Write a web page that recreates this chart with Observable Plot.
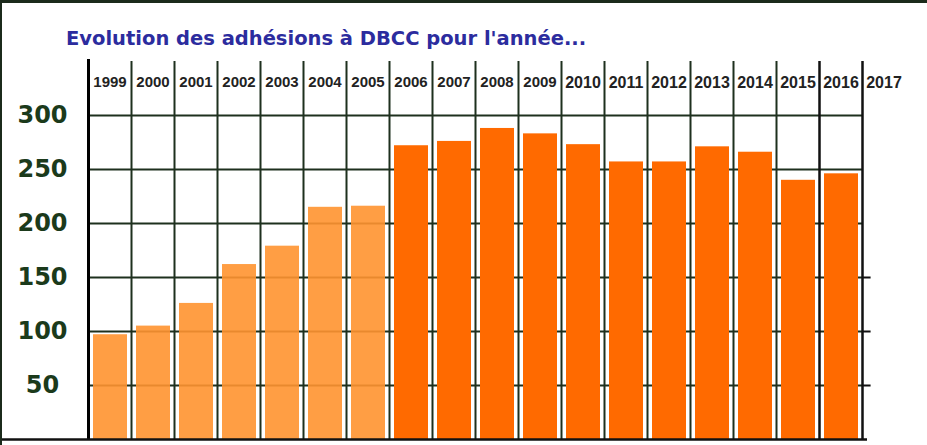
<!DOCTYPE html>
<html>
<head>
<meta charset="utf-8">
<script src="https://cdn.jsdelivr.net/npm/d3@7"></script>
<script src="https://cdn.jsdelivr.net/npm/@observablehq/plot@0.6"></script>
<style>
  html, body { margin: 0; padding: 0; background: #fff; }
  #wrap { position: relative; width: 927px; height: 445px; overflow: hidden; background: #fff; }
  #title { height: 55px; position: relative; }
  #title span { position: absolute; left: 66px; top: 28px; font-family: "DejaVu Sans", sans-serif; font-weight: bold; font-size: 19.5px; line-height: 22px; color: #2c2c9e; white-space: nowrap; }
  #border { position: absolute; left: 0; top: 0; width: 927px; height: 445px; box-sizing: border-box; border-top: 3px solid #1b2a1b; border-left: 2px solid #1b2a1b; pointer-events: none; }
</style>
</head>
<body>
<div id="wrap">
  <div id="title"><span>Evolution des adhésions à DBCC pour l'année...</span></div>
  <div id="chart"></div>
  <div id="border"></div>
</div>
<script>
// Data
const years = [1999, 2000, 2001, 2002, 2003, 2004, 2005, 2006, 2007, 2008, 2009, 2010, 2011, 2012, 2013, 2014, 2015, 2016];
const adhesions = [97, 105, 126, 162, 179, 215, 216, 272, 276, 288, 283, 273, 257, 257, 271, 266, 240, 246];
const yearLabels = [1999, 2000, 2001, 2002, 2003, 2004, 2005, 2006, 2007, 2008, 2009, 2010, 2011, 2012, 2013, 2014, 2015, 2016, 2017];
const yTicks = [50, 100, 150, 200, 250, 300];
const lastEarlyYear = 2005;

const data = years.map((year, i) => ({year, value: adhesions[i]}));
const firstYear = yearLabels[0];
const lastYear = yearLabels[yearLabels.length - 1];

const gridColor = "#1e301e";

const chart = Plot.plot({
  width: 927,
  height: 390,
  marginTop: 6,
  marginBottom: 6,
  marginLeft: 88,
  marginRight: 22,
  x: {type: "linear", domain: [firstYear, lastYear + 1], axis: null},
  y: {domain: [0, 350], axis: null},
  style: {fontFamily: "DejaVu Sans, sans-serif", background: "white"},
  marks: [
    // horizontal grid lines
    Plot.ruleY(yTicks, {x1: firstYear, x2: lastYear, stroke: gridColor, strokeWidth: 2}),
    Plot.ruleY(yTicks.filter(v => v <= 150), {x1: lastYear, x2: lastYear + 0.2, stroke: "#111", strokeWidth: 2}),
    // bars
    Plot.rectY(data.filter(d => d.year <= lastEarlyYear), {
      x1: d => d.year, x2: d => d.year + 1, y: "value",
      insetLeft: 5, insetRight: 4, fill: "#ff9430", fillOpacity: 0.9
    }),
    Plot.rectY(data.filter(d => d.year > lastEarlyYear), {
      x1: d => d.year, x2: d => d.year + 1, y: "value",
      insetLeft: 5, insetRight: 4, fill: "#ff6a00"
    }),
    // vertical grid lines
    Plot.ruleX(yearLabels.filter(y => y > firstYear && y < 2016), {stroke: gridColor, strokeWidth: 2}),
    Plot.ruleX(yearLabels.filter(y => y >= 2016), {stroke: "#111", strokeWidth: 2.5}),
    Plot.ruleX([firstYear], {stroke: "#000", strokeWidth: 3, insetTop: -2}),
    // baseline
    Plot.ruleY([0], {x2: lastYear, insetLeft: -88, insetRight: -5, stroke: "#111", strokeWidth: 2.5}),
    // y tick labels
    Plot.axisY(yTicks, {
      label: null,
      tickSize: 0, tickPadding: 46, textAnchor: "middle",
      fontSize: 24, fontWeight: "bold", fill: "#1b3a1b",
      fontFamily: "DejaVu Sans, sans-serif"
    }),
    // year labels at the top of the grid
    Plot.text(yearLabels, {
      x: d => d + 0.5, frameAnchor: "top", lineAnchor: "middle", dy: 21,
      text: d => String(d),
      fontSize: d => d >= 2010 ? 16 : 15,
      fontWeight: "bold", fill: "#222",
      fontFamily: "Liberation Sans Narrow, Arial Narrow, sans-serif"
    })
  ]
});
document.getElementById("chart").appendChild(chart);
</script>
</body>
</html>
